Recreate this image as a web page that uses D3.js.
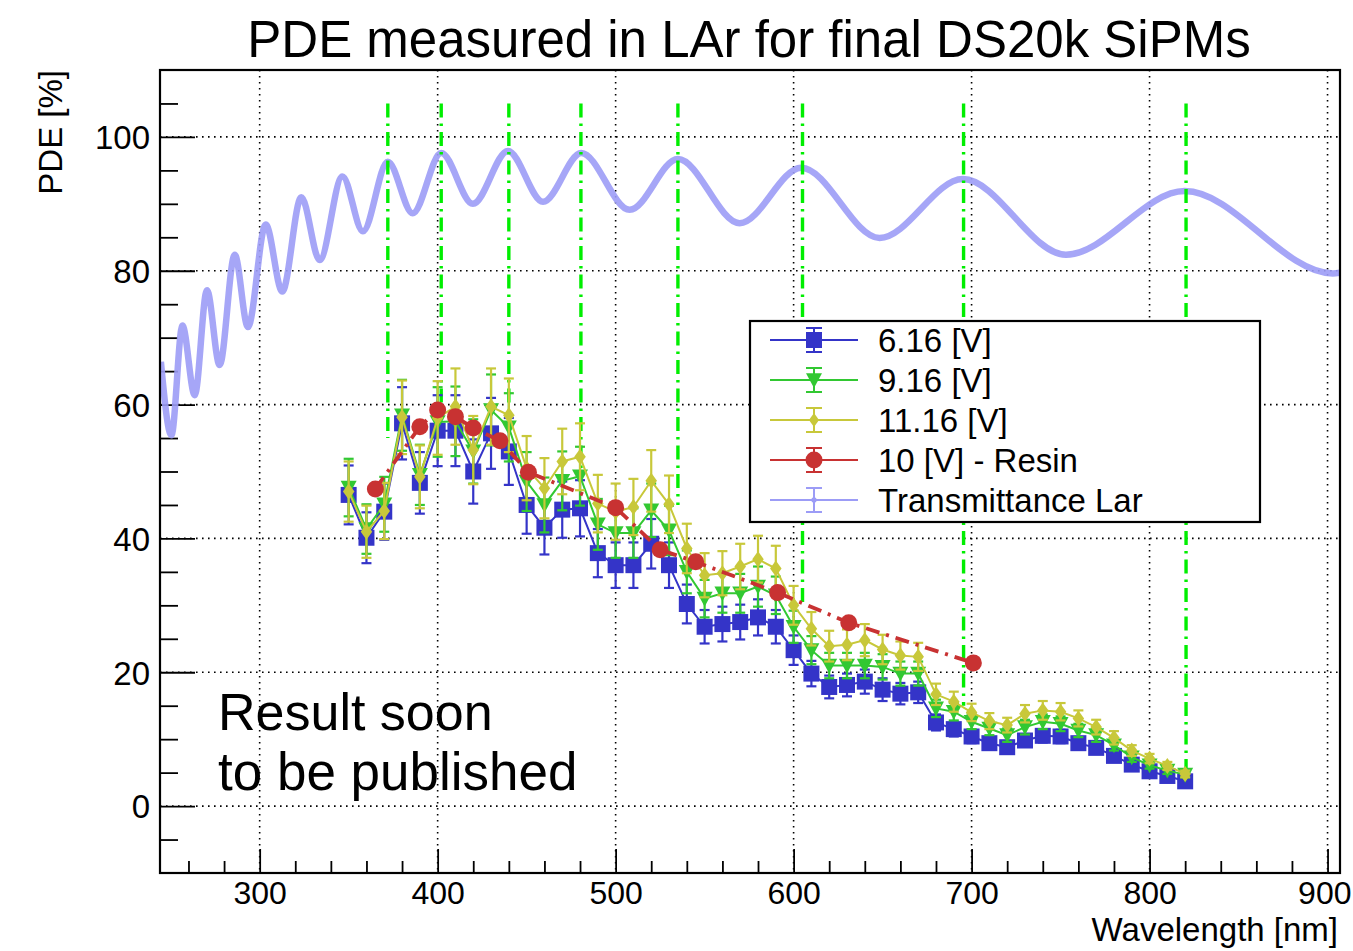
<!DOCTYPE html>
<html><head><meta charset="utf-8">
<script src="https://cdn.jsdelivr.net/npm/d3@7"></script>
<style>
body{margin:0;background:#fff;}
text{font-family:"Liberation Sans",Arial,Helvetica,sans-serif;fill:#000;}
</style>
</head><body>
<svg id="c" width="1353" height="951"></svg>
<script>
// ---------------- data ----------------
const wavelengths = [350,360,370,380,390,400,410,420,430,440,450,460,470,480,490,500,510,520,530,540,550,560,570,580,590,600,610,620,630,640,650,660,670,680,690,700,710,720,730,740,750,760,770,780,790,800,810,820];

const pde616 = [46.5,40.1,44.0,57.2,48.3,56.1,56.1,50.0,55.7,53.0,45.0,41.6,44.3,44.5,37.8,36.0,36.0,39.2,36.0,30.2,26.8,27.2,27.5,28.2,26.8,23.3,19.8,17.8,18.1,18.6,17.4,16.8,17.0,12.5,11.5,10.4,9.4,8.8,9.8,10.5,10.4,9.4,8.7,7.5,6.2,5.2,4.5,3.7];
const err616 = [4.4,3.8,4.2,5.4,4.6,5.3,5.3,4.8,5.3,5.0,4.3,4.0,4.2,4.2,3.6,3.4,3.4,3.7,3.4,2.9,2.5,2.6,2.6,2.7,2.5,2.2,1.9,1.7,1.7,1.8,1.7,1.6,1.6,1.2,1.1,1.0,0.9,0.8,0.9,1.0,1.0,0.9,0.8,0.7,0.6,0.5,0.4,0.4];

const pde916 = [47.6,41.4,45.1,58.4,49.5,57.4,57.5,53.0,59.2,56.6,48.5,45.0,48.6,49.3,42.1,40.8,40.8,44.2,41.2,35.0,31.0,31.8,31.8,32.8,31.5,26.8,23.3,21.0,21.0,21.0,20.8,19.8,19.8,14.6,14.1,12.6,11.6,10.6,11.8,12.6,12.3,11.3,10.6,9.1,7.3,6.1,5.3,4.7];
const err916 = [4.3,3.7,4.1,5.3,4.5,5.2,5.2,4.8,5.3,5.1,4.4,4.1,4.4,4.4,3.8,3.7,3.7,4.0,3.7,3.2,2.8,2.9,2.9,3.0,2.8,2.4,2.1,1.9,1.9,1.9,1.9,1.8,1.8,1.3,1.3,1.1,1.0,1.0,1.1,1.1,1.1,1.0,1.0,0.8,0.7,0.5,0.5,0.4];

const pde1116 = [47.0,41.0,44.1,58.1,49.2,58.0,59.7,53.2,59.7,58.4,50.5,47.5,51.5,52.2,45.2,44.0,44.7,48.6,45.1,38.5,34.5,34.8,35.8,36.9,35.5,30.0,26.5,23.9,24.1,24.8,23.4,22.5,22.3,16.7,15.6,14.0,12.7,12.1,13.8,14.3,14.1,13.1,11.8,10.2,8.3,7.1,6.0,4.8];
const err1116 = [4.5,3.9,4.2,5.5,4.7,5.5,5.7,5.1,5.7,5.5,4.8,4.5,4.9,5.0,4.3,4.2,4.2,4.6,4.3,3.7,3.3,3.3,3.4,3.5,3.4,2.9,2.5,2.3,2.3,2.4,2.2,2.1,2.1,1.6,1.5,1.3,1.2,1.1,1.3,1.4,1.3,1.2,1.1,1.0,0.8,0.7,0.6,0.5];

const resinWl  = [365,390,400,410,420,435,451,500,525,545,591,631,701];
const resinPde = [47.4,56.7,59.2,58.2,56.5,54.6,49.9,44.6,38.3,36.5,31.9,27.4,21.4];

// Transmittance of LAr (read at maxima / minima)
const transWl  = [244.5,250.4,256.6,263.5,270.4,277.5,286,293.4,303.4,312.7,323.4,333.7,346.5,358,372,386,402,419.8,439.5,459.2,480.7,507.9,535,569.7,604.3,648.3,695.1,753,819.7,903,907];
const transVal = [66.4,55.4,71.8,61.4,77.1,65.9,82.4,71.6,86.9,76.9,91.0,81.6,94.1,85.9,96.3,88.6,97.6,90.0,97.9,90.3,97.6,89.1,96.7,87.1,95.4,84.9,93.7,82.4,91.9,79.6,79.7];

// green dash-dot markers at transmittance peaks
const peakWl     = [372,402,440,480.5,535,605,695.5,820.5];
const peakTop    = [105,105,105,105,105,105,105,105];
const peakBottom = [55,58,60,50,45,30,15,4.5];

const xTicksMajor = [300,400,500,600,700,800,900];
const yTicksMajor = [0,20,40,60,80,100];

const legendLabels = ["6.16 [V]","9.16 [V]","11.16 [V]","10 [V] - Resin","Transmittance Lar"];

// ---------------- layout ----------------
const svg = d3.select("#c");
const L = 160, R = 1340, T = 70, B = 873;
const x = d3.scaleLinear().domain([244, 907]).range([L, R]);
const y = d3.scaleLinear().domain([-10, 110]).range([B, T]);

const C = {
  blue: "#3434c8", green: "#32c832", yellow: "#c8c83a", red: "#c83232",
  trans: "#9c9cf6", vline: "#00ee00"
};

svg.append("defs").append("clipPath").attr("id","clipf")
  .append("rect").attr("x",L).attr("y",T).attr("width",R-L).attr("height",B-T);

// grid
const grid = svg.append("g").attr("stroke","#000").attr("stroke-width",1.6)
  .attr("stroke-dasharray","1.6,4.4");
grid.selectAll("line.gx").data(xTicksMajor).join("line")
  .attr("x1",d=>x(d)).attr("x2",d=>x(d)).attr("y1",T).attr("y2",B);
grid.selectAll("line.gy").data(yTicksMajor).join("line")
  .attr("x1",L).attr("x2",R).attr("y1",d=>y(d)).attr("y2",d=>y(d));

// axes
const yMinor = d3.range(-5, 110, 5).filter(v => v % 20 !== 0);
const xMinor = d3.range(260, 907, 20).filter(v => v % 100 !== 0);

const yAx = svg.append("g").attr("transform",`translate(${L},0)`)
  .call(d3.axisLeft(y).tickValues(yTicksMajor).tickSize(-35).tickPadding(10).tickFormat(d3.format("d")));
yAx.select(".domain").remove();
yAx.selectAll("line").attr("stroke","#000").attr("stroke-width",1.8);
yAx.selectAll("text").attr("font-size",33).attr("font-family","Liberation Sans, Arial, sans-serif").attr("dy","0.36em");

const yAxm = svg.append("g").attr("transform",`translate(${L},0)`)
  .call(d3.axisLeft(y).tickValues(yMinor).tickSize(-18).tickFormat(""));
yAxm.select(".domain").remove();
yAxm.selectAll("line").attr("stroke","#000").attr("stroke-width",1.8);

const xAx = svg.append("g").attr("transform",`translate(0,${B})`)
  .call(d3.axisBottom(x).tickValues(xTicksMajor).tickSize(-24).tickPadding(8).tickFormat(d3.format("d")));
xAx.select(".domain").remove();
xAx.selectAll("line").attr("stroke","#000").attr("stroke-width",1.8);
xAx.selectAll("text").attr("font-size",32).attr("font-family","Liberation Sans, Arial, sans-serif");
// keep the last label inside the picture
xAx.selectAll("text").filter(d => d === 900).attr("text-anchor","end").attr("x", 1351 - x(900));

const xAxm = svg.append("g").attr("transform",`translate(0,${B})`)
  .call(d3.axisBottom(x).tickValues(xMinor).tickSize(-12).tickFormat(""));
xAxm.select(".domain").remove();
xAxm.selectAll("line").attr("stroke","#000").attr("stroke-width",1.8);

// transmittance
const plot = svg.append("g").attr("clip-path","url(#clipf)");
const tData = transWl.map((w,i)=>[w,transVal[i]]);
plot.append("path").datum(tData)
  .attr("fill","none").attr("stroke",C.trans).attr("stroke-width",6.5).attr("stroke-opacity",0.9)
  .attr("d", d3.line().x(d=>x(d[0])).y(d=>y(d[1])).curve(d3.curveMonotoneX));

// green vertical dash-dot lines
plot.append("g").selectAll("line").data(peakWl).join("line")
  .attr("x1",d=>x(d)).attr("x2",d=>x(d))
  .attr("y1",(d,i)=>y(peakTop[i])).attr("y2",(d,i)=>y(peakBottom[i]))
  .attr("stroke",C.vline).attr("stroke-width",3.4).attr("stroke-dasharray","14,6,2.5,6");

// marker shapes
function markerPath(type, s) {
  if (type === "square") { const h=s/2; return `M${-h},${-h}H${h}V${h}H${-h}Z`; }
  if (type === "tri") { const h=s/2; return `M${-h},${-h*0.85}H${h}L0,${h*1.0}Z`; }
  if (type === "diamond") { const w=s*0.36, h=s/2; return `M0,${-h}L${w},0L0,${h}L${-w},0Z`; }
  if (type === "circle") { const r=s/2; return `M${r},0A${r},${r} 0 1,1 ${-r},0A${r},${r} 0 1,1 ${r},0Z`; }
  if (type === "star") { return "M0,-3L0,3M-3,0L3,0M-2,-2L2,2M-2,2L2,-2"; }
  return "";
}

function drawSeries(xs, vals, errs, color, type, size, lineOpts) {
  const g = plot.append("g");
  const data = xs.map((w,i)=>({w, v:vals[i], e: errs ? errs[i] : 0}));
  g.append("path").datum(data).attr("fill","none").attr("stroke",color)
    .attr("stroke-width",lineOpts.width).attr("stroke-dasharray",lineOpts.dash||null)
    .attr("d", d3.line().x(d=>x(d.w)).y(d=>y(d.v)));
  if (errs) {
    const eg = g.append("g").attr("stroke",color).attr("stroke-width",2.2);
    eg.selectAll("line.v").data(data).join("line").attr("class","v")
      .attr("x1",d=>x(d.w)).attr("x2",d=>x(d.w)).attr("y1",d=>y(d.v-d.e)).attr("y2",d=>y(d.v+d.e));
    eg.selectAll("line.t").data(data).join("line").attr("class","t")
      .attr("x1",d=>x(d.w)-5).attr("x2",d=>x(d.w)+5).attr("y1",d=>y(d.v+d.e)).attr("y2",d=>y(d.v+d.e));
    eg.selectAll("line.b").data(data).join("line").attr("class","b")
      .attr("x1",d=>x(d.w)-5).attr("x2",d=>x(d.w)+5).attr("y1",d=>y(d.v-d.e)).attr("y2",d=>y(d.v-d.e));
  }
  g.selectAll("path.m").data(data).join("path").attr("class","m")
    .attr("d", markerPath(type,size)).attr("fill",color)
    .attr("transform",d=>`translate(${x(d.w)},${y(d.v)})`);
}

drawSeries(wavelengths, pde616, err616, C.blue, "square", 16, {width:2});
drawSeries(wavelengths, pde916, err916, C.green, "tri", 16, {width:2});
drawSeries(wavelengths, pde1116, err1116, C.yellow, "diamond", 16, {width:2});
drawSeries(resinWl, resinPde, null, C.red, "circle", 17, {width:3.8, dash:"14,7,3,7"});

// frame
svg.append("rect").attr("x",L).attr("y",T).attr("width",R-L).attr("height",B-T)
  .attr("fill","none").attr("stroke","#000").attr("stroke-width",2.2);

// legend
const lg = svg.append("g");
lg.append("rect").attr("x",750).attr("y",321).attr("width",510).attr("height",201)
  .attr("fill","#fff").attr("stroke","#000").attr("stroke-width",2.2);
const legColors = [C.blue, C.green, C.yellow, C.red, C.trans];
const legTypes = ["square","tri","diamond","circle","star"];
const legSizes = [16,16,14,17,6];
legendLabels.forEach((lab,i)=>{
  const cy = 340 + i*40;
  const row = lg.append("g");
  row.append("line").attr("x1",770).attr("x2",858).attr("y1",cy).attr("y2",cy)
    .attr("stroke",legColors[i]).attr("stroke-width",2);
  row.append("line").attr("x1",814).attr("x2",814).attr("y1",cy-12).attr("y2",cy+12)
    .attr("stroke",legColors[i]).attr("stroke-width",2);
  [cy-12,cy+12].forEach(yy=>row.append("line").attr("x1",806).attr("x2",822).attr("y1",yy).attr("y2",yy)
    .attr("stroke",legColors[i]).attr("stroke-width",2));
  row.append("path").attr("d",markerPath(legTypes[i],legSizes[i]))
    .attr("fill",legColors[i]).attr("stroke",legTypes[i]==="star"?legColors[i]:"none").attr("stroke-width",1.5)
    .attr("transform",`translate(814,${cy})`);
  row.append("text").attr("x",878).attr("y",cy+12).attr("font-size",33).text(lab);
});

// titles
svg.append("text").attr("x",749).attr("y",57).attr("text-anchor","middle").attr("font-size",51)
  .text("PDE measured in LAr for final DS20k SiPMs");
svg.append("text").attr("transform","translate(62,70) rotate(-90)").attr("text-anchor","end")
  .attr("font-size",33).text("PDE [%]");
svg.append("text").attr("x",1338).attr("y",941).attr("text-anchor","end").attr("font-size",33)
  .text("Wavelength [nm]");

// annotation
svg.append("text").attr("x",218).attr("y",730).attr("font-size",52).text("Result soon");
svg.append("text").attr("x",218).attr("y",790).attr("font-size",53).text("to be published");
</script>
</body></html>
